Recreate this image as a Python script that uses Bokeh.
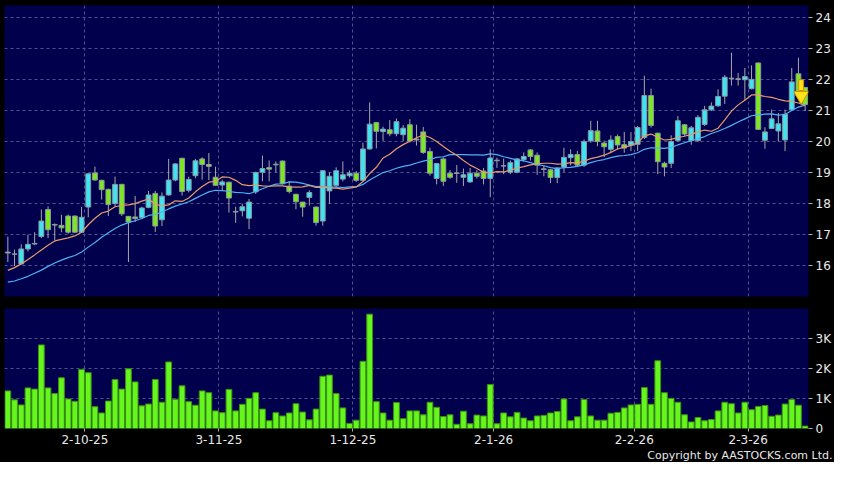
from bokeh.plotting import figure
from bokeh.layouts import column
from bokeh.models import ColumnDataSource, Range1d, FixedTicker, Title
from bokeh.embed import file_html
from bokeh.resources import INLINE

# ---------------- data ----------------
opens = [16.44, 16.38, 16.06, 16.54, 16.70, 16.94, 17.81, 17.31, 17.30, 17.60,
         17.60, 17.08, 17.89, 18.99, 18.75, 18.46, 18.00, 18.62, 17.59, 17.57,
         17.55, 17.88, 18.33, 17.48, 18.28, 18.76, 19.46, 18.43, 18.90, 19.44,
         19.26, 18.85, 18.60, 18.69, 17.75, 17.77, 17.53, 18.38, 19.01, 19.16,
         19.25, 19.37, 18.56, 18.30, 18.05, 18.20, 17.89, 17.44, 18.41, 18.59,
         18.79, 18.90, 18.98, 18.75, 19.76, 20.61, 20.32, 20.38, 20.25, 20.22,
         20.54, 20.08, 20.31, 19.68, 18.81, 19.44, 18.98, 18.99, 18.85, 18.70,
         18.98, 19.05, 18.81, 19.40, 19.22, 19.01, 19.01, 19.42, 19.73, 19.56,
         19.12, 19.09, 18.84, 19.18, 19.48, 19.58, 19.24, 20.02, 20.34, 19.95,
         19.75, 20.16, 19.90, 19.88, 19.91, 20.13, 21.48, 20.27, 19.30, 19.30,
         20.03, 20.54, 20.03, 20.03, 20.55, 21.02, 21.15, 21.46, 22.04, 22.02,
         21.99, 21.70, 22.53, 20.04, 20.42, 20.34, 20.05, 21.02, 22.18, 21.74]

highs = [16.94, 16.52, 16.69, 17.00, 17.08, 17.81, 17.91, 17.36, 17.64, 17.65,
         17.62, 17.89, 18.98, 19.19, 18.77, 18.48, 18.87, 18.64, 17.60, 18.25,
         17.90, 18.41, 18.41, 18.36, 19.44, 19.30, 19.48, 18.87, 19.44, 19.49,
         19.63, 19.19, 18.77, 18.71, 17.90, 18.00, 18.15, 19.03, 19.55, 19.39,
         19.36, 19.39, 18.72, 18.32, 18.05, 18.43, 17.91, 19.08, 19.01, 19.17,
         19.36, 19.07, 19.05, 19.96, 21.26, 20.63, 20.48, 20.69, 20.74, 20.53,
         20.72, 20.54, 20.47, 19.80, 19.31, 19.49, 19.08, 19.24, 19.13, 19.15,
         19.08, 19.15, 19.75, 19.48, 19.45, 19.39, 19.47, 19.65, 19.75, 19.65,
         19.24, 19.12, 19.17, 19.80, 19.75, 19.70, 20.07, 20.67, 20.67, 20.03,
         20.20, 20.23, 20.31, 20.30, 20.50, 22.12, 21.70, 20.28, 19.35, 20.20,
         20.82, 20.56, 20.50, 20.85, 21.15, 21.26, 21.68, 22.14, 22.86, 22.21,
         22.37, 22.45, 22.54, 20.46, 21.03, 20.92, 21.03, 22.37, 22.70, 21.76]

lows = [16.12, 15.99, 16.04, 16.46, 16.66, 16.89, 16.89, 16.82, 17.08, 17.03,
        17.05, 17.06, 17.56, 18.74, 18.13, 17.60, 17.89, 17.60, 16.12, 17.41,
        17.50, 17.85, 17.09, 17.28, 18.26, 18.72, 18.26, 18.36, 18.82, 18.77,
        18.76, 18.57, 18.41, 17.71, 17.38, 17.59, 17.18, 18.31, 18.72, 18.72,
        19.01, 18.62, 18.33, 17.82, 17.58, 17.94, 17.29, 17.29, 17.99, 18.53,
        18.72, 18.84, 18.70, 18.72, 19.74, 19.78, 20.02, 20.17, 20.17, 20.02,
        19.97, 19.87, 19.60, 18.90, 18.62, 18.57, 18.80, 18.67, 18.57, 18.67,
        18.81, 18.62, 18.21, 19.15, 18.95, 18.95, 18.98, 19.35, 19.39, 18.93,
        18.88, 18.66, 18.66, 19.02, 19.23, 19.18, 19.18, 19.96, 19.85, 19.50,
        19.65, 19.75, 19.64, 19.69, 19.70, 20.08, 20.45, 18.95, 18.88, 19.15,
        20.00, 20.18, 19.90, 19.98, 20.50, 20.98, 21.12, 21.21, 21.80, 21.80,
        21.34, 21.68, 20.39, 19.77, 20.40, 20.00, 19.69, 21.00, 21.45, 20.98]

closes = [16.41, 16.37, 16.54, 16.69, 16.72, 17.44, 17.16, 17.33, 17.22, 17.08,
          17.08, 17.56, 18.96, 18.76, 18.45, 17.97, 18.62, 17.67, 17.41, 17.52,
          17.86, 18.28, 17.28, 18.24, 18.76, 19.28, 18.39, 18.78, 19.38, 19.26,
          19.20, 18.59, 18.70, 18.18, 17.73, 17.90, 18.05, 19.00, 19.13, 19.11,
          19.27, 18.64, 18.39, 18.06, 17.89, 18.36, 17.39, 19.06, 18.88, 19.06,
          18.93, 18.98, 18.75, 19.76, 20.56, 20.33, 20.40, 20.25, 20.64, 20.43,
          20.02, 20.05, 19.65, 18.98, 19.29, 18.72, 18.85, 18.97, 18.93, 18.98,
          18.88, 18.81, 19.47, 19.38, 19.21, 19.32, 19.44, 19.52, 19.52, 19.24,
          19.10, 18.84, 19.15, 19.49, 19.58, 19.24, 20.00, 20.35, 20.00, 19.83,
          20.05, 19.89, 19.79, 20.00, 20.45, 21.48, 20.52, 19.35, 19.18, 20.00,
          20.67, 20.24, 20.44, 20.78, 21.02, 21.14, 21.45, 22.07, 22.02, 22.00,
          22.09, 22.00, 20.39, 20.31, 20.73, 20.57, 20.88, 21.92, 21.48, 21.19]

# volume, thousands
volumes_k = [1.26, 0.96, 0.79, 1.36, 1.32, 2.80, 1.36, 1.17, 1.70, 0.99,
             0.91, 1.98, 1.87, 0.73, 0.52, 0.92, 1.64, 1.32, 2.00, 1.56,
             0.76, 0.82, 1.64, 0.88, 2.23, 0.98, 1.43, 0.90, 0.78, 1.26,
             1.20, 0.59, 0.53, 1.31, 0.59, 0.81, 1.01, 1.20, 0.65, 0.26,
             0.53, 0.42, 0.52, 0.83, 0.55, 0.29, 0.65, 1.75, 1.79, 1.17,
             0.69, 0.17, 0.28, 2.25, 3.83, 0.90, 0.52, 0.28, 0.87, 0.33,
             0.59, 0.59, 0.46, 0.88, 0.71, 0.40, 0.46, 0.14, 0.58, 0.16,
             0.45, 0.42, 1.47, 0.16, 0.52, 0.39, 0.54, 0.35, 0.26, 0.42,
             0.44, 0.52, 0.57, 0.99, 0.26, 0.39, 0.97, 0.42, 0.28, 0.28,
             0.51, 0.54, 0.69, 0.79, 0.81, 1.37, 0.81, 2.27, 1.20, 1.01,
             0.88, 0.46, 0.22, 0.37, 0.26, 0.30, 0.59, 0.88, 0.83, 0.52,
             0.88, 0.63, 0.74, 0.77, 0.41, 0.45, 0.82, 0.97, 0.78, 0.08]

# 10-day (orange) and 20-day (blue) moving averages as drawn
ma10 = [15.85, 15.94, 16.06, 16.20, 16.35, 16.51, 16.66, 16.80, 16.85, 16.90,
        16.96, 17.08, 17.32, 17.53, 17.70, 17.76, 17.90, 17.94, 17.96, 18.00,
        18.08, 18.15, 17.98, 17.93, 17.96, 18.09, 18.07, 18.18, 18.38, 18.55,
        18.69, 18.72, 18.86, 18.85, 18.75, 18.61, 18.58, 18.60, 18.57, 18.56,
        18.57, 18.57, 18.54, 18.53, 18.54, 18.59, 18.52, 18.53, 18.51, 18.50,
        18.47, 18.50, 18.54, 18.71, 18.97, 19.17, 19.47, 19.59, 19.77, 19.90,
        20.01, 20.12, 20.21, 20.13, 20.00, 19.84, 19.69, 19.56, 19.39, 19.24,
        19.13, 19.01, 18.99, 19.03, 19.02, 19.08, 19.14, 19.19, 19.25, 19.28,
        19.30, 19.30, 19.27, 19.28, 19.32, 19.31, 19.37, 19.45, 19.50, 19.56,
        19.65, 19.76, 19.82, 19.87, 19.96, 20.18, 20.24, 20.14, 20.05, 20.07,
        20.13, 20.17, 20.23, 20.31, 20.37, 20.33, 20.43, 20.70, 20.98, 21.18,
        21.33, 21.50, 21.50, 21.45, 21.42, 21.36, 21.31, 21.29, 21.24, 21.16]

ma20 = [15.47, 15.51, 15.58, 15.66, 15.76, 15.86, 15.98, 16.09, 16.18, 16.26,
        16.33, 16.44, 16.60, 16.75, 16.92, 17.06, 17.20, 17.31, 17.39, 17.45,
        17.52, 17.62, 17.65, 17.73, 17.83, 17.92, 17.99, 18.06, 18.17, 18.28,
        18.38, 18.43, 18.42, 18.39, 18.36, 18.35, 18.32, 18.39, 18.48, 18.56,
        18.63, 18.64, 18.70, 18.69, 18.65, 18.60, 18.55, 18.56, 18.54, 18.53,
        18.52, 18.54, 18.54, 18.62, 18.76, 18.88, 19.00, 19.06, 19.14, 19.20,
        19.24, 19.31, 19.37, 19.42, 19.49, 19.51, 19.58, 19.58, 19.58, 19.57,
        19.57, 19.56, 19.60, 19.58, 19.51, 19.46, 19.41, 19.38, 19.32, 19.26,
        19.22, 19.16, 19.13, 19.16, 19.17, 19.20, 19.25, 19.32, 19.38, 19.42,
        19.48, 19.53, 19.55, 19.58, 19.64, 19.75, 19.80, 19.79, 19.78, 19.81,
        19.89, 19.96, 20.03, 20.09, 20.16, 20.26, 20.33, 20.42, 20.52, 20.63,
        20.73, 20.83, 20.86, 20.88, 20.89, 20.85, 20.87, 21.00, 21.11, 21.17]

# first trading day of each labelled month (bar index) and labels
month_start_idx = [12, 32, 52, 73, 94, 111]
month_labels = ["2-10-25", "3-11-25", "1-12-25", "2-1-26", "2-2-26", "2-3-26"]

price_ticks = [16, 17, 18, 19, 20, 21, 22, 23, 24]
volume_ticks = [0, 1, 2, 3]
volume_tick_labels = ["0", "1K", "2K", "3K"]

# sell-signal arrow (bar position, shaft top, tip)
signal_x = 118.4
signal_top = 21.99
signal_tip = 21.30

# ---------------- styling ----------------
NAVY = "#00004C"
GRID = "#50508C"
TXT = "#E8E8E8"
UP = "#3EE4F0"
DOWN = "#7DE81E"
FONT = "DejaVu Sans"

n = len(closes)
idx = list(range(n))
body_top = [max(o, c) for o, c in zip(opens, closes)]
body_bot = [min(o, c) for o, c in zip(opens, closes)]
fills = [UP if c >= o else DOWN for o, c in zip(opens, closes)]

src = ColumnDataSource(dict(x=idx, o=opens, h=highs, l=lows, c=closes,
                            top=body_top, bottom=body_bot, fill=fills,
                            vol=volumes_k, ma10=ma10, ma20=ma20))

W = 834
xr = Range1d(-0.5, n - 0.5)
month_grid = [i - 0.5 for i in month_start_idx]


def style_axis(ax):
    ax.axis_line_color = None
    ax.major_tick_line_color = "#B0B0B0"
    ax.major_tick_in = 0
    ax.major_tick_out = 4
    ax.minor_tick_line_color = None
    ax.major_label_text_color = TXT
    ax.major_label_text_font = FONT
    ax.major_label_text_font_size = "12px"
    ax.major_label_standoff = 3


def style_grid(g):
    g.grid_line_color = GRID
    g.grid_line_dash = "3 3"
    g.grid_line_width = 1


# ---------------- price panel ----------------
p = figure(width=W, height=302, x_range=xr, y_range=Range1d(15.01, 24.38),
           output_backend="svg", toolbar_location=None,
           y_axis_location="right", x_axis_location=None,
           background_fill_color=NAVY, border_fill_color="black",
           outline_line_color=None,
           min_border_left=4, min_border_right=26,
           min_border_top=5, min_border_bottom=6)
p.yaxis.ticker = FixedTicker(ticks=price_ticks)
p.ygrid.ticker = FixedTicker(ticks=price_ticks)
p.xgrid.ticker = FixedTicker(ticks=month_grid)
style_axis(p.yaxis[0])
style_grid(p.xgrid[0])
style_grid(p.ygrid[0])

p.segment(x0="x", y0="h", x1="x", y1="l", source=src,
          line_color="#A8A8A8", line_width=1)
p.vbar(x="x", top="top", bottom="bottom", width=0.72, source=src,
       fill_color="fill", line_color="#8C98A4", line_width=1)
p.line("x", "ma20", source=src, line_color="#4EB2F2", line_width=1.2)
p.line("x", "ma10", source=src, line_color="#E89A6C", line_width=1.2)

# arrow
p.rect(x=[signal_x], y=[(signal_top + signal_tip + 0.34) / 2],
       width=5, height=signal_top - signal_tip - 0.34, width_units="screen",
       fill_color="#FFE21A", line_color="#D49000", line_width=1)
p.scatter(x=[signal_x], y=[signal_tip + 0.17], marker="inverted_triangle",
          size=15, fill_color="#FFE21A", line_color="#D49000", line_width=1)

# ---------------- volume panel ----------------
v = figure(width=W, height=160, x_range=xr, y_range=Range1d(0, 4.02),
           output_backend="svg", toolbar_location=None,
           y_axis_location="right", x_axis_location="below",
           background_fill_color=NAVY, border_fill_color="black",
           outline_line_color=None,
           min_border_left=4, min_border_right=26,
           min_border_top=6, min_border_bottom=34)
v.vbar(x="x", top="vol", bottom=0, width=0.86, source=src,
       fill_color="#66F51C", line_color="#3A9212", line_width=1)
v.yaxis.ticker = FixedTicker(ticks=volume_ticks)
v.yaxis.major_label_overrides = dict(zip(volume_ticks, volume_tick_labels))
v.ygrid.ticker = FixedTicker(ticks=volume_ticks[1:])
v.xaxis.ticker = FixedTicker(ticks=month_grid)
v.xaxis.major_label_overrides = dict(zip(month_grid, month_labels))
v.xgrid.ticker = FixedTicker(ticks=month_grid)
style_axis(v.yaxis[0])
style_axis(v.xaxis[0])
v.xaxis[0].major_tick_out = 3
style_grid(v.xgrid[0])
style_grid(v.ygrid[0])

v.add_layout(Title(text="Copyright by AASTOCKS.com Ltd.", align="right",
                   text_color=TXT, text_font=FONT, text_font_size="11px",
                   text_font_style="normal", offset=-24, standoff=0), "below")

layout = column(p, v, spacing=0, styles={"background-color": "black"})

open("out.html", "w").write(file_html(layout, INLINE))
